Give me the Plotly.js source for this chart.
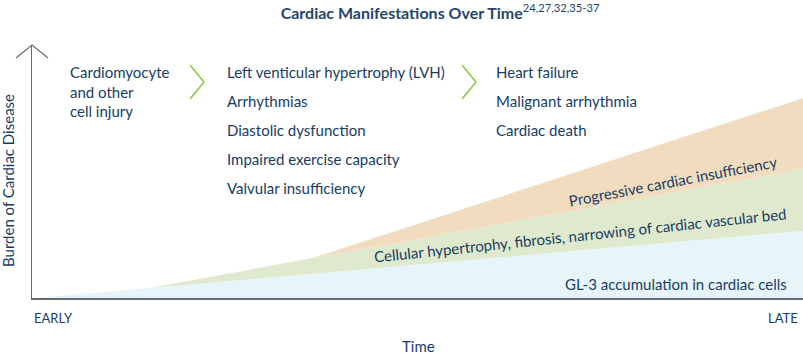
<!DOCTYPE html>
<html><head><meta charset="utf-8">
<script src="https://cdn.plot.ly/plotly-3.0.1.min.js"></script>
<style>html,body{margin:0;padding:0;background:#fff}#chart{width:803px;height:355px}</style>
</head><body><div id="chart"></div>
<script>
// Data (time from 0 = EARLY to 100 = LATE; burden 0..100)
var time = [0, 15.3, 36.4, 100];
var gl3Accumulation = [0, 4.0, 9.6, 26.5];          // light blue layer (thickness)
var hypertrophyFibrosis = [0, 0, 6.2, 24.5];       // green layer (thickness)
var cardiacInsufficiency = [0, 0, 0, 28];          // peach layer (thickness)
var layerLabels = ['GL-3 accumulation in cardiac cells',
  'Cellular hypertrophy, fibrosis, narrowing of cardiac vascular bed',
  'Progressive cardiac insufficiency'];
var stage1 = ['Cardiomyocyte', 'and other', 'cell injury'];
var stage2 = ['Left venticular hypertrophy (LVH)', 'Arrhythmias', 'Diastolic dysfunction', 'Impaired exercise capacity', 'Valvular insufficiency'];
var stage3 = ['Heart failure', 'Malignant arrhythmia', 'Cardiac death'];
var tickLabels = ['EARLY', 'LATE'];

var FONT = 'Lato, "Source Sans Pro", "Noto Sans", sans-serif';
var TXT = '#173d64';

var traces = [
  {x: time, y: gl3Accumulation, stackgroup: 'a', mode: 'none', fillcolor: '#e7f5fa', hoverinfo: 'skip'},
  {x: time, y: hypertrophyFibrosis, stackgroup: 'a', mode: 'none', fillcolor: '#dfe9cd', hoverinfo: 'skip'},
  {x: time, y: cardiacInsufficiency, stackgroup: 'a', mode: 'none', fillcolor: '#f2dcbf', hoverinfo: 'skip'}
];

function px(x){ return (x - 32) / 771; }
function py(y){ return (298 - y) / 253; }

var ann = [];
function addText(text, x, y, opts){
  var a = Object.assign({text: text, x: px(x), y: py(y), xref: 'paper', yref: 'paper', showarrow: false,
    xanchor: 'left', yanchor: 'middle', font: {family: FONT, size: 15, color: TXT}}, opts || {});
  ann.push(a);
}
stage1.forEach(function(t, i){ addText(t, 68, 72 + i * 19.5); });
stage2.forEach(function(t, i){ addText(t, 225, 72 + i * 29); });
stage3.forEach(function(t, i){ addText(t, 494, 72 + i * 29); });
addText(layerLabels[0], 789, 284, {xanchor: 'right'});
addText(layerLabels[1], 580, 235, {xanchor: 'center', textangle: -6});
addText(layerLabels[2], 673, 181, {xanchor: 'center', textangle: -10.8});
// Axis titles
addText('Time', 418, 346, {xanchor: 'center'});
addText('Burden of Cardiac Disease', 8, 181, {xanchor: 'center', textangle: -90});
// Tick labels
ann.push({text: tickLabels[0], x: 0, y: 0, xref: 'x', yref: 'paper', yshift: -20, showarrow: false, xanchor: 'left', yanchor: 'middle', font: {family: FONT, size: 13, color: TXT}});
ann.push({text: tickLabels[1], x: 100, y: 0, xref: 'x', yref: 'paper', yshift: -20, xshift: -3, showarrow: false, xanchor: 'right', yanchor: 'middle', font: {family: FONT, size: 13, color: TXT}});

var GREEN = '#8dc63f';
var shapes = [
  {type: 'path', xref: 'paper', yref: 'paper', path: 'M' + px(190) + ',' + py(65) + ' L' + px(204) + ',' + py(82) + ' L' + px(190) + ',' + py(99), line: {color: GREEN, width: 1.5}},
  {type: 'path', xref: 'paper', yref: 'paper', path: 'M' + px(462) + ',' + py(65) + ' L' + px(476) + ',' + py(82) + ' L' + px(462) + ',' + py(99), line: {color: GREEN, width: 1.5}},
  {type: 'path', xref: 'paper', yref: 'paper', path: 'M' + px(16) + ',' + py(58) + ' L' + px(32) + ',' + py(45) + ' L' + px(48) + ',' + py(58), line: {color: '#6b6b6b', width: 1.2}}
];

var layout = {
  width: 803, height: 355,
  margin: {l: 32, r: 0, t: 45, b: 57},
  paper_bgcolor: '#fff', plot_bgcolor: '#fff',
  showlegend: false,
  title: {text: '<b>Cardiac Manifestations Over Time</b><sup>24,27,32,35-37</sup>', x: 0.548, xanchor: 'center', y: 0.962, yanchor: 'middle', font: {family: FONT, size: 16, color: '#23456b'}},
  xaxis: {range: [0, 100], showgrid: false, zeroline: false, showticklabels: false, ticks: '', showline: true, linecolor: '#6b6b6b', linewidth: 1.5, fixedrange: true},
  yaxis: {range: [0, 100], showgrid: false, zeroline: false, showticklabels: false, ticks: '', showline: true, linecolor: '#6b6b6b', linewidth: 1.5, fixedrange: true},
  annotations: ann,
  shapes: shapes
};
Plotly.newPlot('chart', traces, layout, {displayModeBar: false, staticPlot: true});
</script></body></html>
